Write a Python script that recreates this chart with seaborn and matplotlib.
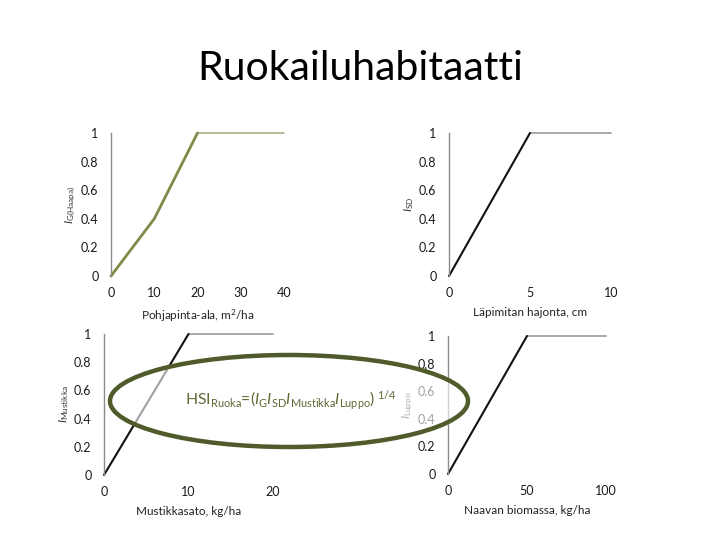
import matplotlib
matplotlib.use("Agg")
import matplotlib.pyplot as plt
import seaborn as sns
import pandas as pd
from matplotlib.patches import Ellipse

# ---- data ----
# panel 1: basal area
g_rise_x = [0, 10, 20]
g_rise_y = [0, 0.4, 1]
g_plat_x = [20, 40]
g_plat_y = [1, 1]
# panel 2: diameter spread
sd_rise_x = [0, 5]
sd_rise_y = [0, 1]
sd_plat_x = [5, 10]
sd_plat_y = [1, 1]
# panel 3: bilberry
m_rise_x = [0, 10]
m_rise_y = [0, 1]
m_plat_x = [10, 20]
m_plat_y = [1, 1]
# panel 4: lichen
l_rise_x = [0, 50]
l_rise_y = [0, 1]
l_plat_x = [50, 100]
l_plat_y = [1, 1]

y_ticks = [0, 0.2, 0.4, 0.6, 0.8, 1]
y_ticklabels = ["0", "0.2", "0.4", "0.6", "0.8", "1"]

sns.set_theme(style="white")
plt.rcParams['font.family'] = ['Lato', 'DejaVu Sans']
plt.rcParams['mathtext.fontset'] = 'custom'
plt.rcParams['mathtext.rm'] = 'Lato'
plt.rcParams['mathtext.it'] = 'Lato:italic'

fig = plt.figure(figsize=(7.2, 5.4), dpi=100)
W, H = 720, 540

def make_ax(x0, x1, y0, y1):
    return fig.add_axes([x0 / W, 1 - y0 / H, (x1 - x0) / W, (y0 - y1) / H])

panels = [
    dict(box=(111, 284, 276, 133), rx=g_rise_x, ry=g_rise_y, px=g_plat_x, py=g_plat_y,
         xlim=(0, 40), xt=[0, 10, 20, 30, 40], rc="#7d8a48", pc="#a9b08a", rlw=2.0,
         xl="Pohjapinta-ala, m$^2$/ha", yl=r"$I_{\mathrm{G(Haapa)}}$"),
    dict(box=(449, 611, 276, 133), rx=sd_rise_x, ry=sd_rise_y, px=sd_plat_x, py=sd_plat_y,
         xlim=(0, 10), xt=[0, 5, 10], rc="#111111", pc="#999999", rlw=1.5,
         xl="Läpimitan hajonta, cm", yl=r"$I_{\mathrm{SD}}$"),
    dict(box=(104, 273, 475, 334), rx=m_rise_x, ry=m_rise_y, px=m_plat_x, py=m_plat_y,
         xlim=(0, 20), xt=[0, 10, 20], rc="#111111", pc="#999999", rlw=1.5,
         xl="Mustikkasato, kg/ha", yl=r"$I_{\mathrm{Mustikka}}$"),
    dict(box=(448, 606, 474, 336), rx=l_rise_x, ry=l_rise_y, px=l_plat_x, py=l_plat_y,
         xlim=(0, 100), xt=[0, 50, 100], rc="#111111", pc="#999999", rlw=1.5,
         xl="Naavan biomassa, kg/ha", yl=r"$I_{\mathrm{Luppo}}$"),
]

for p in panels:
    x0, x1, y0, y1 = p["box"]
    ax = make_ax(x0, x1, y0, y1)
    sns.lineplot(x=p["px"], y=p["py"], ax=ax, color=p["pc"], lw=1.2, clip_on=False)
    sns.lineplot(x=p["rx"], y=p["ry"], ax=ax, color=p["rc"], lw=p["rlw"], clip_on=False)
    ax.set_xlim(*p["xlim"])
    ax.set_ylim(0, 1)
    ax.set_xticks(p["xt"])
    ax.set_xticklabels([str(v) for v in p["xt"]])
    ax.set_yticks(y_ticks)
    ax.set_yticklabels(y_ticklabels)
    ax.tick_params(axis='both', length=0, labelsize=9, labelcolor="#1a1a1a")
    ax.tick_params(axis='x', pad=8)
    ax.tick_params(axis='y', pad=9)
    for s in ["top", "right", "bottom"]:
        ax.spines[s].set_visible(False)
    ax.spines["left"].set_color("#8c8c8c")
    ax.spines["left"].set_linewidth(1.0)
    ax.set_xlabel(p["xl"], fontsize=8.5, color="#222222", labelpad=6)
    ax.set_ylabel(p["yl"], fontsize=8.5, color="#333333", labelpad=2)
    ax.patch.set_alpha(0)

fig.text(0.5, 1 - 68 / H, "Ruokailuhabitaatti", ha="center", va="center",
         fontsize=29.5, color="#000000")

ell = Ellipse((289 / W, 1 - 401 / H), 358 / W, 92 / H, transform=fig.transFigure,
              facecolor=(1, 1, 1, 0.6), edgecolor="#4f5b2a", lw=3.2, zorder=10)
fig.add_artist(ell)

fig.text(185 / W, 1 - 401 / H,
         r"HSI$_{\mathrm{Ruoka}}$=($I_{\mathrm{G}}I_{\mathrm{SD}}I_{\mathrm{Mustikka}}I_{\mathrm{Luppo}}$)$^{\ 1/4}$",
         ha="left", va="center", fontsize=11.3, color="#5d6b35", zorder=11)

fig.savefig("out.png", dpi=100)
